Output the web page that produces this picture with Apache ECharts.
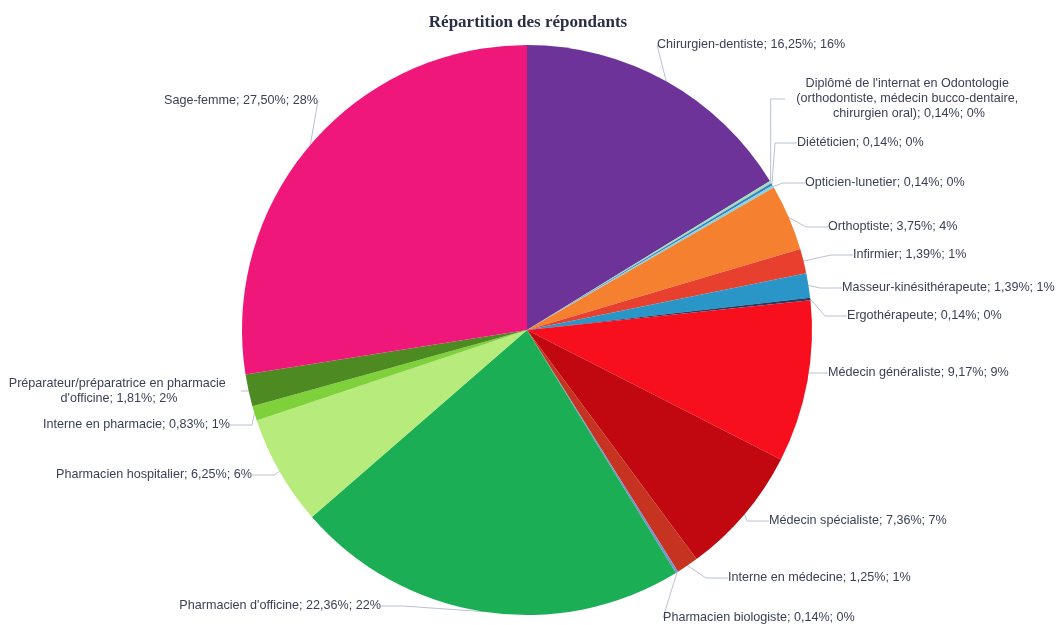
<!DOCTYPE html>
<html><head><meta charset="utf-8">
<script src="https://cdn.jsdelivr.net/npm/echarts@6/dist/echarts.min.js"></script>
<style>html,body{margin:0;padding:0;background:#fff}#c{width:1056px;height:625px}</style>
</head><body><div id="c"></div>
<script>
const categories = [
  "Chirurgien-dentiste",
  "Diplômé de l'internat en Odontologie (orthodontiste, médecin bucco-dentaire, chirurgien oral)",
  "Diététicien",
  "Opticien-lunetier",
  "Orthoptiste",
  "Infirmier",
  "Masseur-kinésithérapeute",
  "Ergothérapeute",
  "Médecin généraliste",
  "Médecin spécialiste",
  "Interne en médecine",
  "Pharmacien biologiste",
  "Pharmacien d'officine",
  "Pharmacien hospitalier",
  "Interne en pharmacie",
  "Préparateur/préparatrice en pharmacie d'officine",
  "Sage-femme"
];
const counts = [117, 1, 1, 1, 27, 10, 10, 1, 66, 53, 9, 1, 161, 45, 6, 13, 198];
const colors = ["#6d3399", "#9fe0b8", "#3d7bbf", "#7fd6e6", "#f5802f", "#e8402f", "#2a95c7", "#1f3d66",
  "#f70f1e", "#c1070f", "#c63320", "#7b8fd0", "#1bae55", "#b7eb7c", "#7fd13b", "#4d8a21", "#f0177a"];
const total = counts.reduce((a, b) => a + b, 0);

// label placement (layout only): [anchorX, centerY, align]
const labelSpots = [
  [657, 45, 'left'], [909, 99, 'center'], [797, 143, 'left'], [805, 183, 'left'],
  [828, 227, 'left'], [853, 255, 'left'], [842, 288, 'left'], [847, 316, 'left'],
  [828, 373, 'left'], [769, 521, 'left'], [728, 578, 'left'], [663, 618, 'left'],
  [381, 606, 'right'], [252, 475, 'right'], [230, 425, 'right'], [119, 391, 'center'],
  [318, 101, 'right']
];
const wrapWidth = {1: 248, 15: 244};

const chart = echarts.init(document.getElementById('c'), null, {renderer: 'canvas'});
chart.setOption({
  animation: false,
  title: {
    text: 'Répartition des répondants', left: 'center', top: 9,
    textStyle: {fontFamily: 'Liberation Serif', fontWeight: 'bold', fontSize: 17, color: '#2a2f45'}
  },
  series: [{
    type: 'pie',
    center: [527, 330],
    radius: [0, 285],
    startAngle: 90,
    clockwise: true,
    avoidLabelOverlap: false,
    data: categories.map((n, i) => {
      const d = {name: n, value: counts[i], itemStyle: {color: colors[i]}};
      if (wrapWidth[i]) d.label = {width: wrapWidth[i], overflow: 'break', align: 'center', lineHeight: 15};
      return d;
    }),
    label: {
      fontFamily: 'Liberation Sans', fontSize: 12.6, color: '#3a3f55',
      formatter: p => {
        const pct = p.value / total * 100;
        return p.name + '; ' + pct.toFixed(2).replace('.', ',') + '%; ' + Math.round(pct) + '%';
      }
    },
    labelLine: {show: true, length: 14, length2: 22, lineStyle: {color: '#b9c0d2', width: 1}},
    labelLayout: p => {
      const s = labelSpots[p.dataIndex];
      return {x: s[0], y: s[1], align: s[2], verticalAlign: 'middle', hideOverlap: false, moveOverlap: null};
    }
  }]
});
</script></body></html>
